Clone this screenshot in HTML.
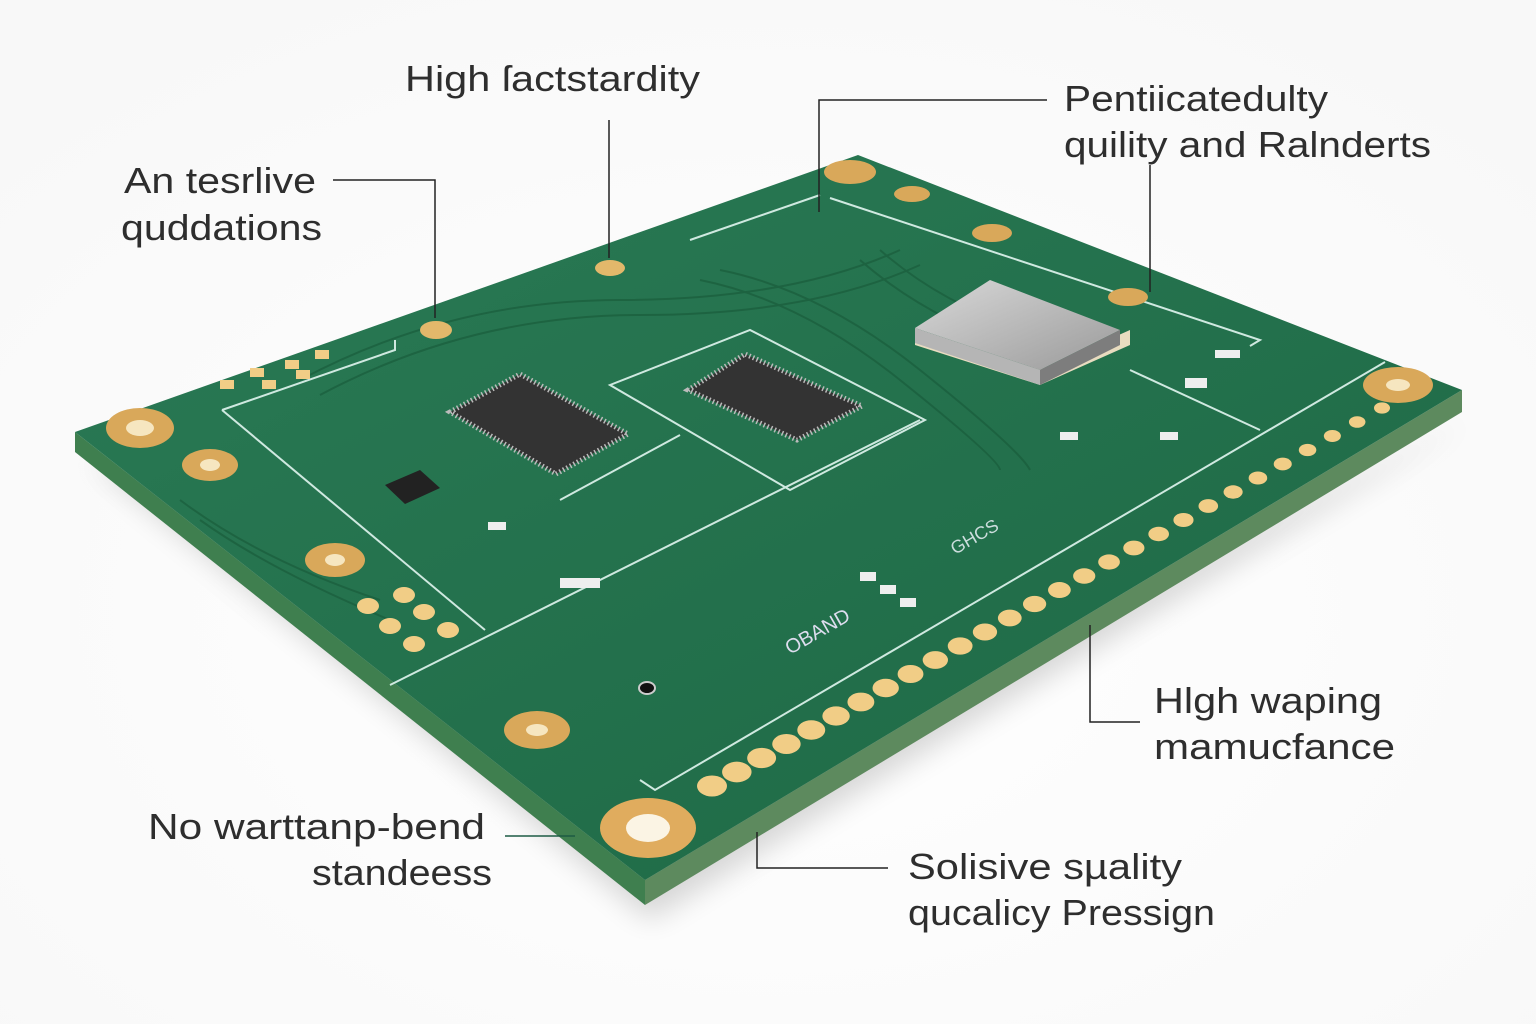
<!DOCTYPE html>
<html><head><meta charset="utf-8"><style>
html,body{margin:0;padding:0;background:#fff;}
svg{display:block}
text{font-family:"Liberation Sans",sans-serif;font-size:36px;fill:#2e2e2e;}
</style></head><body>
<svg width="1536" height="1024" viewBox="0 0 1536 1024" xmlns="http://www.w3.org/2000/svg">
<defs>
<radialGradient id="bg" cx="50%" cy="60%" r="70%"><stop offset="0" stop-color="#fff"/><stop offset="1" stop-color="#f8f8f8"/></radialGradient>
<linearGradient id="top" x1="0" y1="0" x2="1" y2="1"><stop offset="0" stop-color="#2a7a55"/><stop offset="1" stop-color="#1d6844"/></linearGradient>
<linearGradient id="sil" x1="0" y1="0" x2="1" y2="1"><stop offset="0" stop-color="#d8d8d8"/><stop offset="1" stop-color="#9a9a9a"/></linearGradient>
<filter id="sh" x="-20%" y="-20%" width="140%" height="140%"><feGaussianBlur stdDeviation="14"/></filter>
</defs>
<rect width="1536" height="1024" fill="url(#bg)"/>
<polygon points="90,460 650,920 1470,420 1100,600" fill="#000" opacity="0.15" filter="url(#sh)"/>
<polygon points="75,432 645,880 645,905 75,452" fill="#3f7f4f"/>
<polygon points="645,880 1462,390 1462,412 645,905" fill="#5d8a5e"/>
<polygon points="75,432 858,155 1462,390 645,880" fill="url(#top)"/>
<g fill="none" stroke="#cfe9e0" stroke-width="2">
<polyline points="222,410 395,350 395,340"/>
<polyline points="222,410 485,630"/>
<polyline points="390,685 920,420"/>
<polyline points="640,780 655,790 1385,362"/>
<polyline points="830,198 1260,340 1250,346"/>
<polyline points="690,240 820,195"/>
<polygon points="610,385 750,330 925,420 790,490"/>
<polyline points="1130,370 1260,430"/>
<polyline points="680,435 560,500"/>
</g>
<g fill="none" stroke="#1a5d3c" stroke-width="2" opacity="0.7">
<path d="M300,380 Q450,300 620,300 T900,250"/><path d="M320,395 Q470,315 640,315 T920,265"/>
<path d="M700,280 Q800,300 900,380 T1000,470"/><path d="M720,270 Q820,290 920,370 T1030,470"/>
<path d="M180,500 Q260,560 380,600"/><path d="M200,520 Q270,570 390,620"/>
<path d="M860,260 Q940,330 1060,360"/><path d="M880,250 Q960,320 1080,345"/>
</g>
<g>
<ellipse cx="140" cy="428" rx="34" ry="20" fill="#d9a85a"/><ellipse cx="140" cy="428" rx="14" ry="8" fill="#f6e6c0"/>
<ellipse cx="210" cy="465" rx="28" ry="16" fill="#d9a85a"/><ellipse cx="210" cy="465" rx="10" ry="6" fill="#f6e6c0"/>
<ellipse cx="335" cy="560" rx="30" ry="17" fill="#d9a85a"/><ellipse cx="335" cy="560" rx="10" ry="6" fill="#f6e6c0"/>
<ellipse cx="537" cy="730" rx="33" ry="19" fill="#d9a85a"/><ellipse cx="537" cy="730" rx="11" ry="6" fill="#f6e6c0"/>
<ellipse cx="648" cy="828" rx="48" ry="30" fill="#e0ac5e"/><ellipse cx="648" cy="828" rx="22" ry="14" fill="#fbf4e4"/>
<ellipse cx="1398" cy="385" rx="35" ry="18" fill="#d9a85a"/><ellipse cx="1398" cy="385" rx="12" ry="6" fill="#f6e6c0"/>
<ellipse cx="850" cy="172" rx="26" ry="12" fill="#d9a85a"/>
<ellipse cx="912" cy="194" rx="18" ry="8" fill="#d9a85a"/>
<ellipse cx="992" cy="233" rx="20" ry="9" fill="#d9a85a"/>
<ellipse cx="1128" cy="297" rx="20" ry="9" fill="#d9a85a"/>
<ellipse cx="610" cy="268" rx="15" ry="8" fill="#e2b86b"/>
<ellipse cx="436" cy="330" rx="16" ry="9" fill="#e2b86b"/>
</g>
<g fill="#f1cd86" id="pads"></g>
<g fill="#f1cd86">
<ellipse cx="368" cy="606" rx="11" ry="8"/><ellipse cx="404" cy="595" rx="11" ry="8"/>
<ellipse cx="390" cy="626" rx="11" ry="8"/><ellipse cx="424" cy="612" rx="11" ry="8"/>
<ellipse cx="414" cy="644" rx="11" ry="8"/><ellipse cx="448" cy="630" rx="11" ry="8"/>
<rect x="220" y="380" width="14" height="9"/><rect x="250" y="368" width="14" height="9"/><rect x="285" y="360" width="14" height="9"/><rect x="315" y="350" width="14" height="9"/>
<rect x="262" y="380" width="14" height="9"/><rect x="296" y="370" width="14" height="9"/>
</g>
<polygon points="450,412 520,374 628,434 556,474" fill="#333" stroke="#bbb" stroke-width="5" stroke-dasharray="1.5 2.5"/>
<polygon points="688,390 745,354 862,406 797,440" fill="#333" stroke="#bbb" stroke-width="5" stroke-dasharray="1.5 2.5"/>
<polygon points="915,330 915,345 1040,385 1130,345 1130,330 1040,370" fill="#e8dcc0"/>
<polygon points="915,328 990,280 1120,330 1040,370" fill="url(#sil)"/>
<polygon points="1040,370 1120,330 1120,345 1040,385" fill="#7d7d7d"/>
<polygon points="915,328 1040,370 1040,385 915,343" fill="#b5b5b5"/>
<g fill="#eee">
<rect x="1185" y="378" width="22" height="10"/><rect x="1060" y="432" width="18" height="8"/><rect x="1160" y="432" width="18" height="8"/>
<rect x="860" y="572" width="16" height="9"/><rect x="880" y="585" width="16" height="9"/><rect x="900" y="598" width="16" height="9"/>
<rect x="488" y="522" width="18" height="8"/><rect x="560" y="578" width="40" height="10"/>
<rect x="1215" y="350" width="25" height="8"/>
</g>
<polygon points="385,485 420,470 440,488 405,504" fill="#222"/>
<text x="790" y="655" style="font-size:20px;fill:#dde" transform="rotate(-30 790 655)">OBAND</text>
<text x="955" y="555" style="font-size:18px;fill:#cdd" transform="rotate(-30 955 555)">GHCS</text>
<ellipse cx="647" cy="688" rx="8" ry="6" fill="#111" stroke="#ccc" stroke-width="2"/>
<g fill="none" stroke="#222" stroke-width="1.5">
<polyline points="333,180 435,180 435,318"/>
<line x1="609" y1="120" x2="609" y2="258"/>
<polyline points="1047,100 819,100 819,212"/>
<line x1="1150" y1="165" x2="1150" y2="292"/>
<polyline points="1140,722 1090,722 1090,625"/>
<polyline points="888,868 757,868 757,832"/>
<line x1="505" y1="836" x2="575" y2="836" stroke="#1d5b44"/>
</g>
<text x="405" y="91" textLength="295" lengthAdjust="spacingAndGlyphs">High ſactstardity</text>
<text x="124" y="193" textLength="192" lengthAdjust="spacingAndGlyphs">An tesrlive</text>
<text x="121" y="240" textLength="201" lengthAdjust="spacingAndGlyphs">quddations</text>
<text x="1064" y="111" textLength="264" lengthAdjust="spacingAndGlyphs">Pentiicatedulty</text>
<text x="1064" y="157" textLength="367" lengthAdjust="spacingAndGlyphs">quility and Ralnderts</text>
<text x="1154" y="713" textLength="228" lengthAdjust="spacingAndGlyphs">Hlgh waping</text>
<text x="1154" y="759" textLength="241" lengthAdjust="spacingAndGlyphs">mamucfance</text>
<text x="148" y="839" textLength="337" lengthAdjust="spacingAndGlyphs">No warttanp-bend</text>
<text x="312" y="885" textLength="180" lengthAdjust="spacingAndGlyphs">standeess</text>
<text x="908" y="879" textLength="274" lengthAdjust="spacingAndGlyphs">Solisive sµality</text>
<text x="908" y="925" textLength="307" lengthAdjust="spacingAndGlyphs">qucalicy Pressign</text>
</svg>
<script>
var g=document.getElementById('pads'),n=28,x0=712,y0=786,x1=1382,y1=408,s='';
for(var i=0;i<n;i++){var t=i/(n-1),x=x0+(x1-x0)*t,y=y0+(y1-y0)*t,r=15-7*t;
s+='<ellipse cx="'+x+'" cy="'+y+'" rx="'+r+'" ry="'+(r*0.7)+'"/>';}
g.innerHTML=s;
</script>
</body></html>
